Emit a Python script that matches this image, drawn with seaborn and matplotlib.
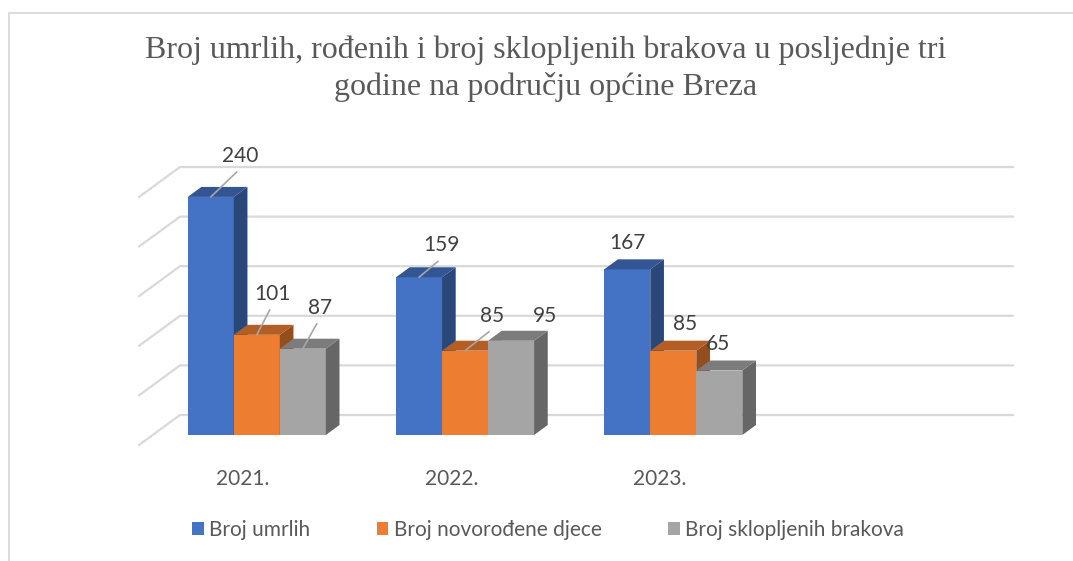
import numpy as np
import pandas as pd
import matplotlib
matplotlib.use("Agg")
import matplotlib.pyplot as plt
import matplotlib.transforms as mtransforms
from matplotlib.patches import Polygon, Rectangle
from matplotlib.colors import to_rgb
import seaborn as sns

# Data
years = ["2021.", "2022.", "2023."]
broj_umrlih = [240, 159, 167]
broj_novorodjene = [101, 85, 85]
broj_brakova = [87, 95, 65]
series_names = ["Broj umrlih", "Broj novorođene djece", "Broj sklopljenih brakova"]
series_colors = ["#4472C4", "#ED7D31", "#A5A5A5"]

# Where Excel put each data label, in pixels from the top of the bar (left-to-right bar order)
label_nudge = [(29, 41), (16, 41), (17, 41),
               (22, 32), (27, 35), (34, 25),
               (0, 26), (12, 27), (-1, 27)]

df = pd.DataFrame({
    "Godina": years * 3,
    "Broj": broj_umrlih + broj_novorodjene + broj_brakova,
    "Serija": [s for s in series_names for _ in years],
})

W, H = 1073, 561
sns.set_theme(style="white")
plt.rcParams["font.family"] = ["Lato", "DejaVu Sans"]

fig = plt.figure(figsize=(W / 100, H / 100), dpi=100)
fig.patch.set_facecolor("white")
ax = fig.add_axes([139 / W, (H - 445) / H, 833 / W, 248 / H])
ax.patch.set_alpha(0)

# empty 4th slot, as in the source workbook
sns.barplot(
    data=df, x="Godina", y="Broj", hue="Serija",
    order=years + [""], hue_order=series_names, palette=series_colors,
    width=0.663, gap=0, errorbar=None, linewidth=0, saturation=1, ax=ax,
)
ax.set_xlim(-0.5, 3.5)
ax.set_ylim(0, 250)
for sp in ax.spines.values():
    sp.set_visible(False)
ax.set_yticks([])
ax.set_xlabel("")
ax.set_ylabel("")
ax.tick_params(axis="x", length=0, pad=17, labelsize=15, labelcolor="#595959")

# pixel -> data scale
p0 = ax.transData.transform((0, 0))
p1 = ax.transData.transform((1, 1))
sx, sy = p1[0] - p0[0], p1[1] - p0[1]

depth = np.array([41.0, 30.0])  # back wall offset in pixels
front = depth / 3
back = depth * 2 / 3
grid_c = "#d9d9d9"

# back wall gridlines and left wall edges
x0, x1 = ax.get_xlim()
for v in range(0, 251, 50):
    ax.plot([x0, x0 + depth[0] / sx, x1 + depth[0] / sx],
            [v, v + depth[1] / sy, v + depth[1] / sy],
            color=grid_c, lw=1.6, solid_capstyle="round", clip_on=False, zorder=0)

front_tr = mtransforms.offset_copy(ax.transData, fig=fig, x=front[0], y=front[1], units="dots")


def shade(c, f):
    r, g, b = to_rgb(c)
    return (r * f, g * f, b * f)


bars = [p for p in ax.patches if p.get_height() > 0]
bars.sort(key=lambda p: p.get_x())
for i, p in enumerate(bars):
    x, w, h = p.get_x(), p.get_width(), p.get_height()
    col = p.get_facecolor()
    z = 2 + i
    p.set_transform(front_tr)
    p.set_zorder(z)
    p.set_clip_on(False)
    fx, fy = front[0] / sx, front[1] / sy
    bx, by = back[0] / sx, back[1] / sy
    side = [(x + w + fx, fy), (x + w + fx, h + fy), (x + w + bx, h + by), (x + w + bx, by)]
    top = [(x + fx, h + fy), (x + w + fx, h + fy), (x + w + bx, h + by), (x + bx, h + by)]
    ax.add_patch(Polygon(side, closed=True, facecolor=shade(col, 0.62), lw=0, zorder=z, clip_on=False))
    ax.add_patch(Polygon(top, closed=True, facecolor=shade(col, 0.75), lw=0, zorder=z, clip_on=False))

    # data label
    cx = x + w / 2
    ndx, ndy = label_nudge[i]
    ax.annotate(f"{int(round(h))}", xy=(cx, h), xycoords=front_tr,
                xytext=(ndx, ndy), textcoords="offset pixels",
                ha="center", va="center", fontsize=15, color="#404040", zorder=50)
    if ndy > 30:
        ax.plot([cx, cx + (ndx - 3) / sx], [h, h + (ndy - 16) / sy],
                color="#a6a6a6", lw=1.2, transform=front_tr, clip_on=False, zorder=49)

sns.move_legend(
    ax, "center", bbox_to_anchor=(548 / W, (H - 530) / H), bbox_transform=fig.transFigure,
    ncol=3, frameon=False, title=None, fontsize=15, handlelength=0.55, handleheight=0.55,
    handletextpad=0.25, columnspacing=3.2,
)
for t in ax.get_legend().get_texts():
    t.set_color("#595959")

fig.text(546 / W, (H - 69) / H,
         "Broj umrlih, rođenih i broj sklopljenih brakova u posljednje tri\ngodine na području općine Breza",
         ha="center", va="center", fontsize=23, color="#595959",
         family=["Liberation Serif", "DejaVu Serif"], linespacing=1.3)

# chart area border
fig.add_artist(Rectangle((9 / W, -0.1), 1.2, (H - 13) / H + 0.1, transform=fig.transFigure,
                         fill=False, edgecolor="#d9d9d9", lw=1.3))

fig.savefig("out.png", dpi=100, facecolor="white")
